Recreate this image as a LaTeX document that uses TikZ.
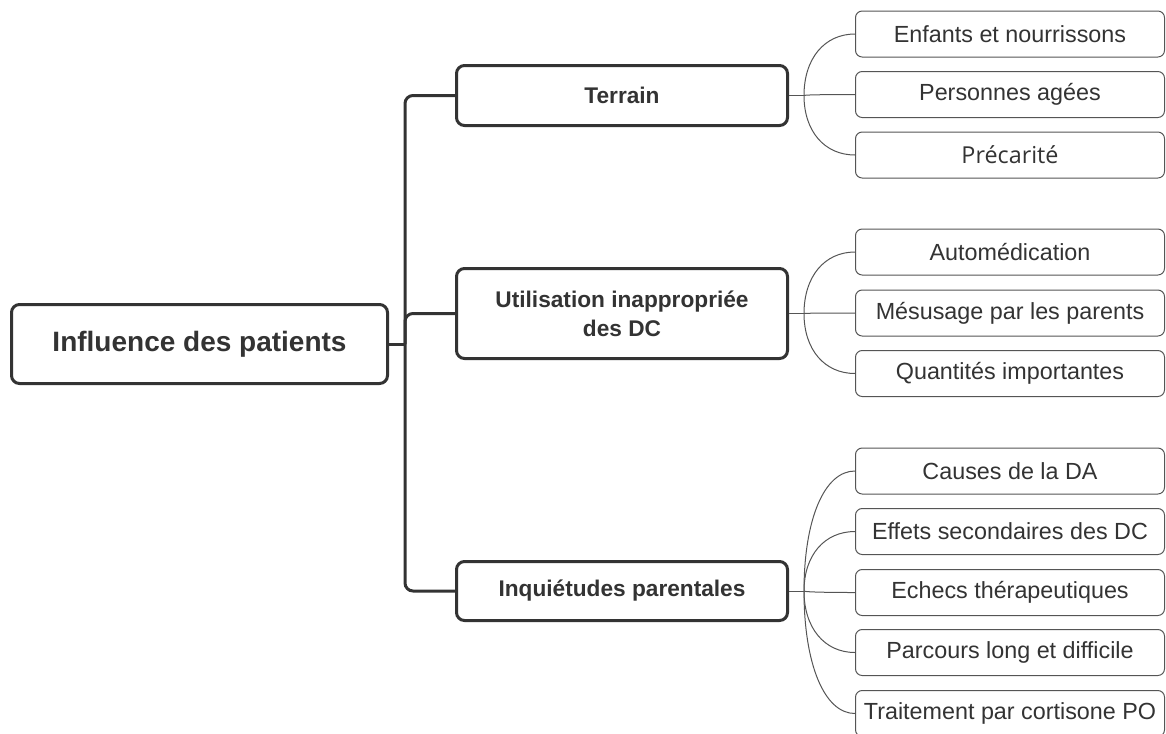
\documentclass[tikz,border=0pt]{standalone}
\usepackage{fontspec}
\setmainfont{Liberation Sans}
\newfontfamily\altfont{Open Sans}
\usetikzlibrary{calc}
\definecolor{ink}{HTML}{333333}
\definecolor{leafline}{HTML}{555555}
\begin{document}
\begin{tikzpicture}[x=0.75pt,y=-0.75pt,
  rootbox/.style={draw=ink, line width=2.25pt, rounded corners=6pt, fill=white, text=ink,
    font=\bfseries\fontsize{21}{25}\selectfont, minimum width=282pt, minimum height=59.25pt, inner sep=0pt},
  midbox/.style={draw=ink, line width=2.25pt, rounded corners=6pt, fill=white, text=ink,
    font=\bfseries\fontsize{17}{22}\selectfont, minimum width=248.25pt, inner sep=0pt, align=center},
  leafbox/.style={draw=leafline, line width=0.75pt, rounded corners=5pt, fill=white, text=ink,
    font=\fontsize{17.5}{20}\selectfont, minimum width=231.75pt, minimum height=34.5pt, inner sep=0pt},
  trunk/.style={draw=ink, line width=2.25pt, rounded corners=6pt},
  twig/.style={draw=leafline, line width=0.75pt}]
\useasboundingbox (0,0) rectangle (1166,733);

% root and branches
\node[rootbox] (root) at (199.5,344) {Influence des patients};
\node[midbox, minimum height=45pt] (terrain) at (622,95.5) {Terrain};
\node[midbox, minimum height=67.5pt] (util) at (622,313.5) {Utilisation inappropriée\\des DC};
\node[midbox, minimum height=44.25pt] (inq) at (622,591) {Inquiétudes parentales};

% leaves
\node[leafbox] (l11) at (1010,34) {Enfants et nourrissons};
\node[leafbox] (l12) at (1010,94.5) {Personnes agées};
\node[leafbox, font=\altfont\fontsize{17.5}{20}\selectfont] (l13) at (1010,155) {Précarité};
\node[leafbox] (l21) at (1010,252) {Automédication};
\node[leafbox] (l22) at (1010,313) {Mésusage par les parents};
\node[leafbox] (l23) at (1010,373.5) {Quantités importantes};
\node[leafbox] (l31) at (1010,471) {Causes de la DA};
\node[leafbox] (l32) at (1010,531.5) {Effets secondaires des DC};
\node[leafbox] (l33) at (1010,592.5) {Echecs thérapeutiques};
\node[leafbox] (l34) at (1010,652.5) {Parcours long et difficile};
\node[leafbox] (l35) at (1010,713.5) {Traitement par cortisone PO};

% trunk
\coordinate (tr) at (405,344);
\draw[trunk] (root.east) -- (tr);
\draw[trunk] (tr) |- (terrain.west);
\draw[trunk] (tr) |- (util.west);
\draw[trunk] (tr) |- (inq.west);

% forks
\coordinate (f1) at (804,95.5);
\coordinate (f2) at (804,313.5);
\coordinate (f3) at (804,591);
\draw[twig] (terrain.east) -- (f1);
\draw[twig] (util.east) -- (f2);
\draw[twig] (inq.east) -- (f3);
\foreach \f/\L in {f1/l11,f1/l12,f1/l13,f2/l21,f2/l22,f2/l23,f3/l31,f3/l32,f3/l33,f3/l34,f3/l35}
  \draw[twig] (\f) .. controls ($(\f)!0.6!(\f |- \L.west)$) and ($(\L.west)!0.6!(\f |- \L.west)$) .. (\L.west);
\end{tikzpicture}
\end{document}
